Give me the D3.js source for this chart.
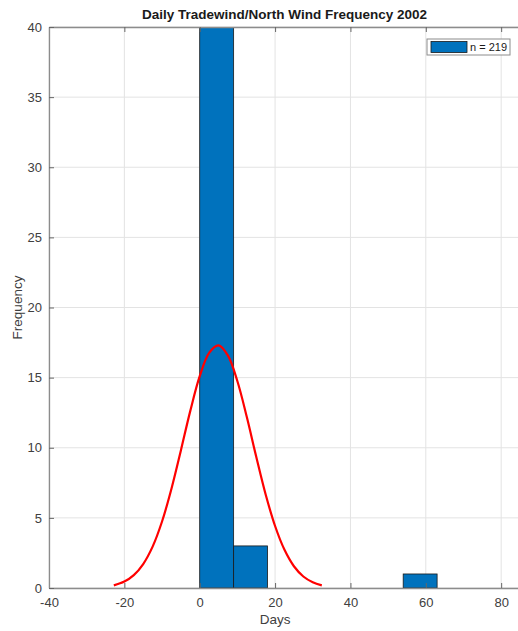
<!DOCTYPE html>
<html>
<head>
<meta charset="utf-8">
<script src="https://cdn.jsdelivr.net/npm/d3@7"></script>
<style>
  body { margin: 0; background: #fff; }
  svg { font-family: "Liberation Sans", Arial, sans-serif; }
</style>
</head>
<body>
<svg id="chart" width="518" height="631"></svg>
<script>
// histogram bins (days) and counts
var binEdges = [0, 9, 18, 27, 36, 45, 54, 63];
var binCounts = [215, 3, 0, 0, 0, 0, 1];

// fitted curve
var fitX = [-22.8, -20, -17.5, -15, -12.5, -10, -7.5, -5, -2.5, 0, 2.5, 5, 7.5, 10, 12.5, 15, 17.5, 20, 22.5, 25, 27.5, 30, 32.4];
var fitY = [0.19, 0.46, 0.92, 1.71, 2.95, 4.74, 7.08, 9.81, 12.63, 15.1, 16.77, 17.3, 16.57, 14.74, 12.19, 9.36, 6.67, 4.42, 2.72, 1.55, 0.82, 0.41, 0.19];

var xTicks = [-40, -20, 0, 20, 40, 60, 80];
var yTicks = [0, 5, 10, 15, 20, 25, 30, 35, 40];
var legendLabel = "n = 219";

var svg = d3.select("#chart"),
    margin = {top: 27, right: -2, bottom: 43, left: 49},
    width = +svg.attr("width") - margin.left - margin.right,
    height = +svg.attr("height") - margin.top - margin.bottom;

var x = d3.scaleLinear().domain([-40, 85]).range([0, width]);
var y = d3.scaleLinear().domain([0, 40]).range([height, 0]);

svg.append("defs").append("clipPath").attr("id", "clip")
  .append("rect").attr("width", width).attr("height", height);

var g = svg.append("g").attr("transform", "translate(" + margin.left + "," + margin.top + ")");

// grid
g.append("g").selectAll("line").data(xTicks).enter().append("line")
    .attr("x1", function(d) { return x(d); }).attr("x2", function(d) { return x(d); })
    .attr("y1", 0).attr("y2", height)
    .attr("stroke", "#e3e3e3").attr("stroke-width", 1);
g.append("g").selectAll("line").data(yTicks).enter().append("line")
    .attr("x1", 0).attr("x2", width)
    .attr("y1", function(d) { return y(d); }).attr("y2", function(d) { return y(d); })
    .attr("stroke", "#e3e3e3").attr("stroke-width", 1);

// bars
var bins = binCounts.map(function(c, i) { return {x0: binEdges[i], x1: binEdges[i + 1], n: c}; })
  .filter(function(d) { return d.n > 0; });

g.append("g").attr("clip-path", "url(#clip)")
  .selectAll("rect").data(bins).enter().append("rect")
    .attr("x", function(d) { return x(d.x0); })
    .attr("width", function(d) { return x(d.x1) - x(d.x0); })
    .attr("y", function(d) { return y(d.n); })
    .attr("height", function(d) { return y(0) - y(d.n); })
    .attr("fill", "#0072bd")
    .attr("stroke", "#1a1a1a")
    .attr("stroke-width", 0.8);

// fitted curve
var line = d3.line()
    .x(function(d) { return x(d[0]); })
    .y(function(d) { return y(d[1]); })
    .curve(d3.curveCatmullRom);

g.append("path")
    .datum(d3.zip(fitX, fitY))
    .attr("d", line)
    .attr("fill", "none")
    .attr("stroke", "#ff0000")
    .attr("stroke-width", 2.2);

// axes
var axisColor = "#8c8c8c", textColor = "#404040";
var fmt = function(d) { return String(d); };

var xAxis = g.append("g")
    .attr("transform", "translate(0," + height + ")")
    .call(d3.axisBottom(x).tickValues(xTicks).tickFormat(fmt).tickSizeInner(-5).tickSizeOuter(0).tickPadding(10));
var xTop = g.append("g")
    .call(d3.axisTop(x).tickValues(xTicks).tickSizeInner(-5).tickSizeOuter(0).tickFormat(""));
var yAxis = g.append("g")
    .call(d3.axisLeft(y).tickValues(yTicks).tickFormat(fmt).tickSizeInner(-5).tickSizeOuter(0).tickPadding(7));

[xAxis, xTop, yAxis].forEach(function(a) {
  a.select(".domain").attr("stroke", axisColor).attr("stroke-width", 1.3);
  a.selectAll(".tick line").attr("stroke", "#666");
  a.selectAll("text").attr("fill", textColor).attr("font-size", 13);
});

// labels
svg.append("text")
    .attr("x", margin.left + width / 2).attr("y", 19)
    .attr("text-anchor", "middle")
    .attr("font-weight", "bold").attr("font-size", 13.5).attr("fill", "#1a1a1a")
    .text("Daily Tradewind/North Wind Frequency 2002");

svg.append("text")
    .attr("x", margin.left + x(20)).attr("y", 624)
    .attr("text-anchor", "middle")
    .attr("font-size", 13.5).attr("fill", textColor)
    .text("Days");

svg.append("text")
    .attr("transform", "translate(22," + (margin.top + height / 2) + ") rotate(-90)")
    .attr("text-anchor", "middle")
    .attr("font-size", 13.5).attr("fill", textColor)
    .text("Frequency");

// legend
var lg = svg.append("g").attr("transform", "translate(427,39)");
lg.append("rect").attr("width", 83).attr("height", 16)
    .attr("fill", "#fff").attr("stroke", "#8c8c8c").attr("stroke-width", 1);
lg.append("rect").attr("x", 4).attr("y", 2.5).attr("width", 36).attr("height", 11)
    .attr("fill", "#0072bd").attr("stroke", "#1a1a1a").attr("stroke-width", 0.8);
lg.append("text").attr("x", 43).attr("y", 12.2)
    .attr("font-size", 11).attr("fill", "#1a1a1a")
    .text(legendLabel);
</script>
</body>
</html>
